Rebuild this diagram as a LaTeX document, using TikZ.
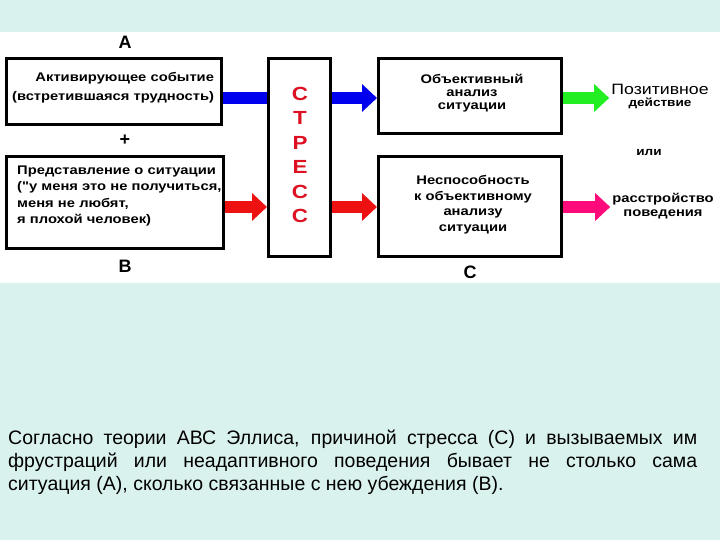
\documentclass[tikz,border=0pt]{standalone}
\usepackage{fontspec}
\setmainfont{Liberation Sans}
\newfontfamily\widefont[FakeStretch=1.18]{Liberation Sans}
\usetikzlibrary{arrows.meta}
\definecolor{bgcyan}{HTML}{DAF2EE}
\definecolor{blueC}{HTML}{0000EE}
\definecolor{redC}{HTML}{EE1111}
\definecolor{greenC}{HTML}{22EE22}
\definecolor{pinkC}{HTML}{FF0A7A}
\definecolor{stressred}{HTML}{DD1122}
\begin{document}
\begin{tikzpicture}[x=1pt,y=-1pt,
  frame/.style={draw=black,line width=3pt,fill=white,inner sep=0pt},
  lbl/.style={font=\fontsize{18}{18}\selectfont\bfseries,inner sep=0pt},
  btxt/.style={font=\widefont\fontsize{12.5}{#1}\selectfont\bfseries,inner sep=0pt},
  fat/.style={line width=12pt},
  tip/.style={-{Triangle[length=15pt,width=27pt]}}]
\useasboundingbox (0,0) rectangle (720,540);
\fill[bgcyan] (0,0) rectangle (720,540);
\fill[white] (0,32) rectangle (720,283);
\coordinate (yt) at (0,98);
\coordinate (yb) at (0,207);
% boxes
\node[frame,minimum width=215pt,minimum height=66pt] (A) at (114,91.5) {};
\node[frame,minimum width=217pt,minimum height=92pt] (B) at (115,202.5) {};
\node[frame,minimum width=62pt,minimum height=198pt] (S) at (299.5,157.5) {};
\node[frame,minimum width=183pt,minimum height=75pt] (O) at (470,96) {};
\node[frame,minimum width=183pt,minimum height=100pt] (N) at (470,206.5) {};
% box texts
\node[btxt=19,text width=206pt,align=right] (tA) at (111,88) {Активирующее событие\\(встретившаяся трудность)};
\node[btxt=16.5,text width=212pt,align=left,anchor=west] (tB) at (17,196) {Представление о ситуации\\("у меня это не получиться,\\меня не любят,\\я плохой человек)};
\node[font=\widefont\fontsize{19}{24.5}\selectfont\bfseries,text=stressred,align=center,inner sep=0pt] (tS) at (300,155) {С\\Т\\Р\\Е\\С\\С};
\node[btxt=13,align=center] (tO) at (472,93) {Объективный\\анализ\\ситуации};
\node[btxt=15.5,align=center] (tN) at (473,204.5) {Неспособность\\к объективному\\анализу\\ситуации};
% labels
\node[lbl] (lA) at (125,42) {A};
\node[lbl] (lplus) at (125,140) {+};
\node[lbl] (lB) at (125,266) {B};
\node[lbl] (lC) at (470,272) {C};
% outcomes
\node[align=center,inner sep=2pt] (P) at (660,96.5) {{\widefont\fontsize{15}{13}\selectfont Позитивное}\\{\widefont\fontsize{11.5}{13}\selectfont\bfseries действие}};
\node[font=\widefont\fontsize{11.5}{11.5}\selectfont\bfseries,inner sep=0pt] (ili) at (649,153) {или};
\node[align=center,inner sep=2pt,font=\widefont\fontsize{12.5}{14}\selectfont\bfseries] (R) at (663,206) {расстройство\\поведения};
% arrows
\draw[fat,blueC] (A.east |- yt) -- (S.west |- yt);
\draw[fat,tip,blueC] (S.east |- yt) -- (O.west |- yt);
\draw[fat,tip,redC] (B.east |- yb) -- (S.west |- yb);
\draw[fat,tip,redC] (S.east |- yb) -- (N.west |- yb);
\draw[fat,tip,greenC] (O.east |- yt) -- (P.west |- yt);
\draw[fat,tip,pinkC] (N.east |- yb) -- (R.west |- yb);
% caption
\node[anchor=base west,text width=689pt,align=justify,inner sep=0pt,font=\fontsize{19.5}{23}\selectfont] (T) at (8,444) {Согласно теории АВС Эллиса, причиной стресса (С) и вызываемых им\linebreak фрустраций или неадаптивного поведения бывает не столько сама\linebreak ситуация (А), сколько связанные с нею убеждения (В).};
\end{tikzpicture}
\end{document}
